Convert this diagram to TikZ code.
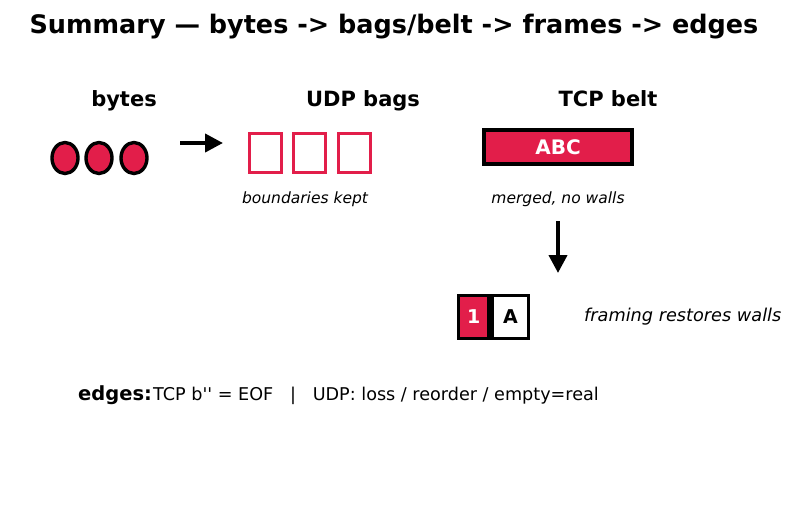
\documentclass[tikz,border=0pt]{standalone}
\usepackage{fontspec}
\setmainfont{DejaVu Sans}
\usetikzlibrary{arrows.meta,shapes.geometric}
\definecolor{crimsonred}{RGB}{226,30,74}

\begin{document}
\begin{tikzpicture}[x=1pt, y=-1pt,
    head/.style={font=\bfseries\fontsize{21}{24}\selectfont, anchor=base},
    note/.style={font=\itshape\fontsize{15.5}{18}\selectfont},
    byte/.style={ellipse, draw, fill=crimsonred, line width=3.4pt,
        minimum width=26pt, minimum height=31pt, inner sep=0pt},
    bag/.style={draw=crimsonred, line width=3.4pt,
        minimum width=32pt, minimum height=39pt, inner sep=0pt},
    cell/.style={draw, line width=3.4pt, minimum height=42.6pt, inner sep=0pt,
        font=\bfseries\fontsize{19}{21}\selectfont},
    flow/.style={-{Triangle[length=18pt,width=18pt]}, line width=4pt}]

    \useasboundingbox (0,0) rectangle (792,512);

    \node[font=\bfseries\fontsize{25.5}{28}\selectfont] (title) at (394,27)
        {Summary — bytes -> bags/belt -> frames -> edges};

    \node[head] (bytes) at (124,106.5) {bytes};
    \node[head] (udp) at (363,106.5) {UDP bags};
    \node[head] (tcp) at (608,106.5) {TCP belt};

    \node[byte] (b1) at (65,158) {};
    \node[byte] (b2) at (99,158) {};
    \node[byte] (b3) at (134,158) {};

    \coordinate (go) at (180,143);
    \coordinate (to) at (223,143);
    \draw[flow] (go) -- (to);

    \node[bag] (bag1) at (265.5,153) {};
    \node[bag] (bag2) at (309.5,153) {};
    \node[bag] (bag3) at (354.5,153) {};
    \node[note] (kept) at (305,199) {boundaries kept};

    \node[draw, fill=crimsonred, line width=4pt, minimum width=148pt,
        minimum height=34pt, inner sep=0pt, text=white,
        font=\bfseries\fontsize{20}{22}\selectfont] (belt) at (558,147) {ABC};
    \node[note] (merged) at (558,199) {merged, no walls};

    \draw[flow] (belt.south |- 0,221) -- (belt.south |- 0,273);

    \node[cell, fill=crimsonred, text=white, minimum width=30.3pt] (len) at (473.8,317) {1};
    \node[cell, fill=white, minimum width=36.3pt, anchor=west] (data) at (len.east) {A};
    \node[font=\itshape\fontsize{17.7}{20}\selectfont, anchor=west, inner sep=0pt] (walls) at (584,317)
        {framing restores walls};

    \node[font=\bfseries\fontsize{19.5}{22}\selectfont, anchor=base west, inner sep=0pt] (edges) at (78,400) {edges:};
    \node[font=\fontsize{17.6}{20}\selectfont, anchor=base west, inner sep=0pt] (rule) at (153,400)
        {TCP b\textquotesingle\textquotesingle{} = EOF \ \ | \ \ UDP: loss / reorder / empty=real};

\end{tikzpicture}
\end{document}
